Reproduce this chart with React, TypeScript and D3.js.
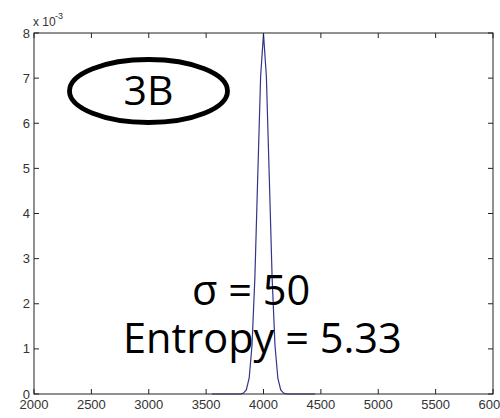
import React from 'react';
import * as d3 from 'd3';

// axis ticks
const xTicks = [2000, 2500, 3000, 3500, 4000, 4500, 5000, 5500, 6000];
const yTicks = [0, 1, 2, 3, 4, 5, 6, 7, 8];

// density curve (y in units of 1e-3)
const curveX = [3550, 3800, 3825, 3850, 3875, 3900, 3925, 3950, 3975, 4000,
  4025, 4050, 4075, 4100, 4125, 4150, 4175, 4200, 4450];
const curveY = [0, 0, 0.02, 0.09, 0.35, 1.08, 2.59, 4.84, 7.04, 7.98,
  7.04, 4.84, 2.59, 1.08, 0.35, 0.09, 0.02, 0, 0];

const badge = '3B';
const sigmaText = 'σ = 50';
const entropyText = 'Entropy = 5.33';

const App = () => {
  const width = 500;
  const height = 418;
  const margin = { top: 33, right: 7, bottom: 24, left: 34 };

  const x = d3.scaleLinear([2000, 6000], [margin.left, width - margin.right]);
  const y = d3.scaleLinear([0, 8], [height - margin.bottom, margin.top]);

  const points = curveX.map((d, i) => [d, curveY[i]] as [number, number]);
  const line = d3.line<[number, number]>()
    .x(d => x(d[0]))
    .y(d => y(d[1]));

  const tickLen = 5;
  const tickColor = '#222';
  const labelColor = '#333';
  const x0 = margin.left, x1 = width - margin.right;
  const y0 = height - margin.bottom, y1 = margin.top;
  const big = "'Open Sans', sans-serif";
  const small = "'Liberation Sans', Arial, sans-serif";

  return (
    <svg width={width} height={height}
      style={{ position: 'absolute', left: 0, top: 0, background: '#fff' }}>
      {/* curve */}
      <path d={line(points) ?? ''} fill="none" stroke="#34348a" strokeWidth={1.2} />

      {/* frame */}
      <rect x={x0} y={y1} width={x1 - x0} height={y0 - y1}
        fill="none" stroke={tickColor} strokeWidth={1} />

      {/* x ticks */}
      {xTicks.map(t => (
        <g key={'x' + t}>
          <line x1={x(t)} x2={x(t)} y1={y0} y2={y0 - tickLen} stroke={tickColor} />
          <line x1={x(t)} x2={x(t)} y1={y1} y2={y1 + tickLen} stroke={tickColor} />
          <text x={x(t)} y={y0 + 15} textAnchor="middle" fontSize={13}
            fontFamily={small} fill={labelColor}>{t}</text>
        </g>
      ))}

      {/* y ticks */}
      {yTicks.map(t => (
        <g key={'y' + t}>
          <line x1={x0} x2={x0 + tickLen} y1={y(t)} y2={y(t)} stroke={tickColor} />
          <line x1={x1} x2={x1 - tickLen} y1={y(t)} y2={y(t)} stroke={tickColor} />
          <text x={x0 - 4} y={y(t) + 4.5} textAnchor="end" fontSize={13}
            fontFamily={small} fill={labelColor}>{t}</text>
        </g>
      ))}

      {/* exponent */}
      <text x={33} y={26} fontSize={12} fontFamily={small} fill={labelColor}>x 10</text>
      <text x={55} y={19} fontSize={9} fontFamily={small} fill={labelColor}>-3</text>

      {/* badge */}
      <ellipse cx={148.5} cy={91} rx={79} ry={31.5} fill="none" stroke="#000" strokeWidth={4.8} />
      <text x={148.5} y={105} textAnchor="middle" fontSize={41} fontFamily={big} fill="#000">{badge}</text>

      {/* annotations */}
      <text x={192} y={305} fontSize={41.5} fontFamily={big} fill="#000">{sigmaText}</text>
      <text x={123} y={353} fontSize={41.5} fontFamily={big} fill="#000">{entropyText}</text>
    </svg>
  );
};

export default App;
